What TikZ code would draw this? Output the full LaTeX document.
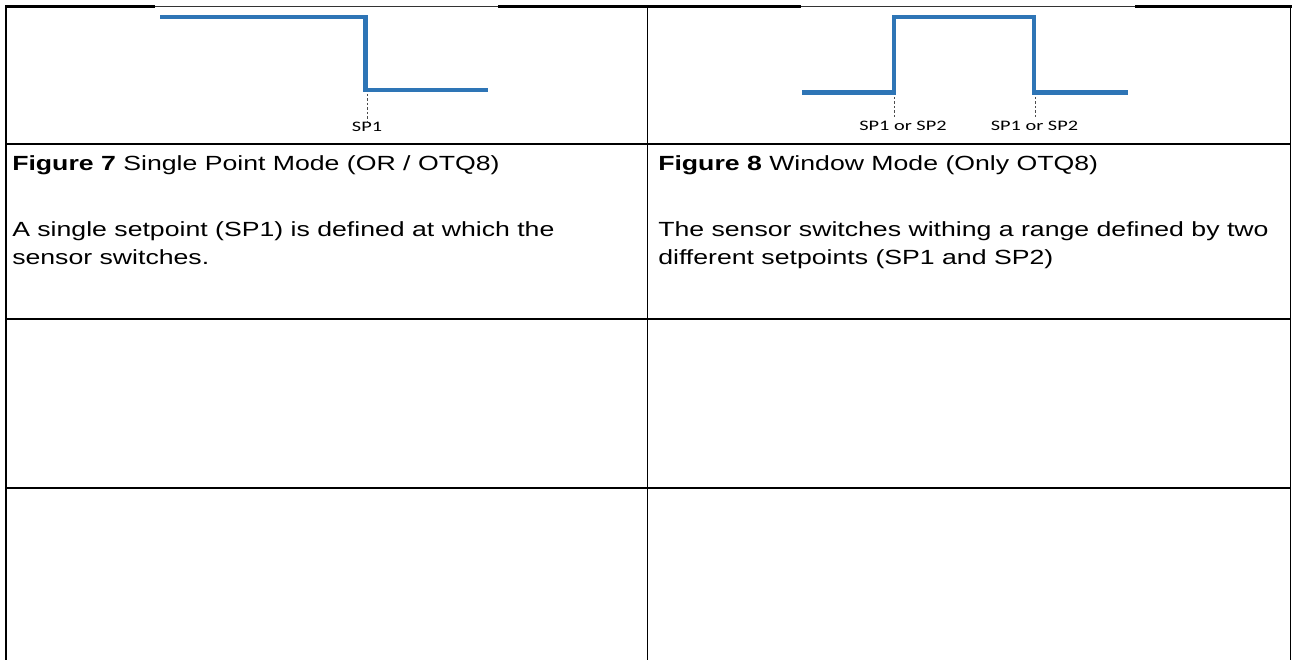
\documentclass[tikz,border=0pt]{standalone}
\usepackage{fontspec}
\setmainfont{Liberation Sans}
\newfontfamily\calfont{Carlito}
\definecolor{sigblue}{HTML}{2E75B6}
\begin{document}
\begin{tikzpicture}[x=1pt,y=-1pt,
  heavyrule/.style={line width=2.6pt, black},
  midrule/.style={line width=1.6pt, black},
  lightrule/.style={line width=1.1pt, black},
  hairrule/.style={line width=0.7pt, black!80},
  signal/.style={line width=4.6pt, draw=sigblue, line join=miter},
  guide/.style={line width=0.8pt, black!70, dash pattern=on 2.5pt off 2pt},
  celltext/.style={anchor=base west, inner sep=0pt, font=\fontsize{20.5}{28}\selectfont, xscale=1.3},
  splabel/.style={anchor=base, inner sep=0pt, font=\calfont\fontsize{14.5}{17}\selectfont, xscale=1.4}]
\useasboundingbox (0,0) rectangle (1296,660);
\fill[white] (0,0) rectangle (1296,660);

% table rules
\draw[heavyrule] (5,6.5) -- (155,6.5);
\draw[hairrule] (155,6.5) -- (498,6.5);
\draw[heavyrule] (498,6.5) -- (801,6.5);
\draw[hairrule] (801,6.5) -- (1135,6.5);
\draw[heavyrule] (1135,6.5) -- (1291.5,6.5);
\draw[midrule] (6,5.2) -- (6,660);
\draw[midrule] (647.5,6.5) -- (647.5,660);
\draw[midrule] (1290.5,5.2) -- (1290.5,660);
\draw[lightrule] (6,144) -- (1290.5,144);
\draw[midrule] (6,319) -- (1290.5,319);
\draw[heavyrule] (6,488) -- (1290.5,488);

% left signal: single point
\coordinate (a0) at (160,17);
\coordinate (a1) at (365.5,17);
\coordinate (a2) at (365.5,90);
\coordinate (a3) at (488,90);
\draw[signal] (a0) -- (a1) -- (a2) -- (a3);
\node[splabel] (sp1) at (367,132) {SP1};
\coordinate (d1) at (367,94);
\draw[guide] (d1) -- (sp1.north);

% right signal: window
\coordinate (b0) at (802,92.5);
\coordinate (b1) at (894,92.5);
\coordinate (b2) at (894,17);
\coordinate (b3) at (1034,17);
\coordinate (b4) at (1034,92.5);
\coordinate (b5) at (1128,92.5);
\draw[signal] (b0) -- (b1) -- (b2) -- (b3) -- (b4) -- (b5);
\node[splabel] (spa) at (903,131) {SP1 or SP2};
\node[splabel] (spb) at (1034.5,131) {SP1 or SP2};
\coordinate (d2) at (894,97);
\coordinate (d3) at (1035,97);
\draw[guide] (d2) -- (894,118);
\draw[guide] (d3) -- (1035,118);

% captions
\node[celltext] (t7) at (12,171) {\textbf{Figure 7} Single Point Mode (OR / OTQ8)};
\node[celltext] (b7a) at (12,237) {A single setpoint (SP1) is defined at which the};
\node[celltext] (b7b) at (12,265) {sensor switches.};
\node[celltext] (t8) at (658,171) {\textbf{Figure 8} Window Mode (Only OTQ8)};
\node[celltext] (b8a) at (658,237) {The sensor switches withing a range defined by two};
\node[celltext] (b8b) at (658,265) {different setpoints (SP1 and SP2)};
\end{tikzpicture}
\end{document}
